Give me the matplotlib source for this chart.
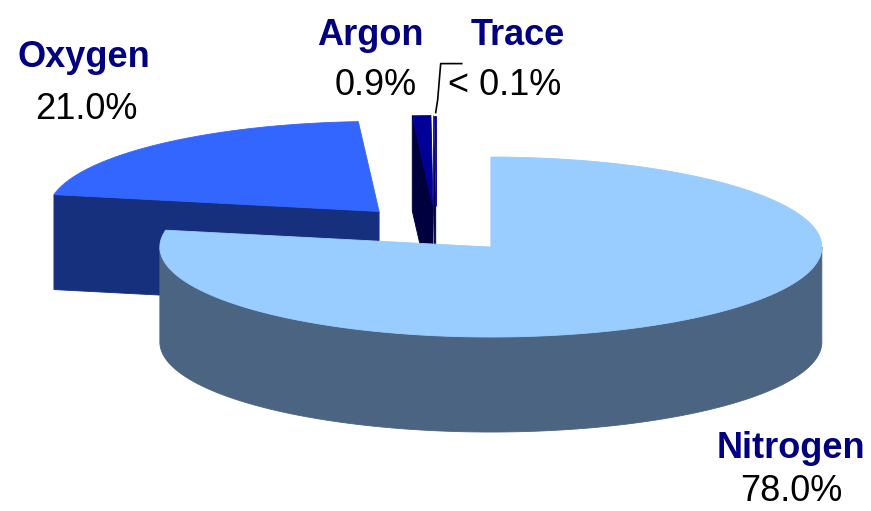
import numpy as np
import matplotlib.pyplot as plt
from matplotlib.patches import Polygon

# composition of dry air
gases = ['Nitrogen', 'Oxygen', 'Argon', 'Trace']
shares = [78.0, 21.0, 0.9, 0.1]
share_text = ['78.0%', '21.0%', '0.9%', '< 0.1%']

# styling
top_colors = ['#99CCFF', '#3366FF', '#000099', '#000099']
side_colors = ['#4A6482', '#17307D', '#00003F', '#00003F']
name_color = '#000080'

# pie geometry in pixel space (x right, y down)
cx, cy = 436, 229
rx, ry, depth = 331, 90, 95
explode = 0.26

# label anchors: name x, name baseline, value x, value baseline
label_pos = {
    'Nitrogen': (791, 458, 791, 501),
    'Oxygen': (84, 67, 86, 119),
    'Argon': (370, 45, 376, 95),
    'Trace': (518, 45, 505, 95),
}

plt.rcParams['font.family'] = ['Liberation Sans', 'DejaVu Sans']

fig = plt.figure(figsize=(8.71, 5.11), dpi=100)
ax = fig.add_axes([0, 0, 1, 1])
ax.set_xlim(0, 871)
ax.set_ylim(511, 0)
ax.axis('off')


def arc(vx, vy, t):
    t = np.radians(t)
    return vx + rx * np.cos(t), vy - ry * np.sin(t)


def patch(xs, ys, color, z):
    ax.add_patch(Polygon(np.column_stack([xs, ys]), closed=True,
                         facecolor=color, edgecolor=color, lw=0.6, zorder=z))


# angles: start at 12 o'clock, go clockwise
slices = []
start = 90.0
for name, s, top, side in zip(gases, shares, top_colors, side_colors):
    hi = start
    lo = start - s * 3.6
    mid = np.radians((lo + hi) / 2)
    vx = cx + explode * rx * np.cos(mid)
    vy = cy - explode * ry * np.sin(mid)
    slices.append((name, lo, hi, vx, vy, top, side))
    start = lo

# paint back-to-front
z = 1
for name, lo, hi, vx, vy, top, side in sorted(slices, key=lambda d: d[4]):
    # radial cut faces
    for a, normal in ((lo, lo - 90), (hi, hi + 90)):
        if np.sin(np.radians(normal)) < -1e-6:
            px, py = arc(vx, vy, a)
            patch([vx, px, px, vx], [vy, py, py + depth, vy + depth], side, z)
    # curved outer wall (front half only)
    t = np.linspace(lo, hi, 600)
    front = np.sin(np.radians(t)) <= 0
    if front.sum() > 1:
        xs, ys = arc(vx, vy, t[front])
        patch(np.concatenate([xs, xs[::-1]]),
              np.concatenate([ys, ys[::-1] + depth]), side, z)
    # top face
    xs, ys = arc(vx, vy, t)
    patch(np.concatenate([[vx], xs]), np.concatenate([[vy], ys]), top, z + 1)
    z += 2

# labels
for (name, lo, hi, vx, vy, top, side), txt in zip(slices, share_text):
    nx, ny, px, py = label_pos[name]
    ax.text(nx, ny, name, color=name_color, fontsize=26, fontweight='bold',
            ha='center', va='baseline', zorder=20)
    ax.text(px, py, txt, color='black', fontsize=26,
            ha='center', va='baseline', zorder=20)

# leader line for the trace slice
name, lo, hi, vx, vy, top, side = slices[3]
sx, sy = arc(vx, vy, (lo + hi) / 2)
ax.plot([sx + 1, sx + 3, sx + 6, sx + 27], [sy - 3, sy - 16, sy - 52, sy - 52],
        color='black', lw=1.2, zorder=20)

fig.savefig('out.png', dpi=100, facecolor='white')
